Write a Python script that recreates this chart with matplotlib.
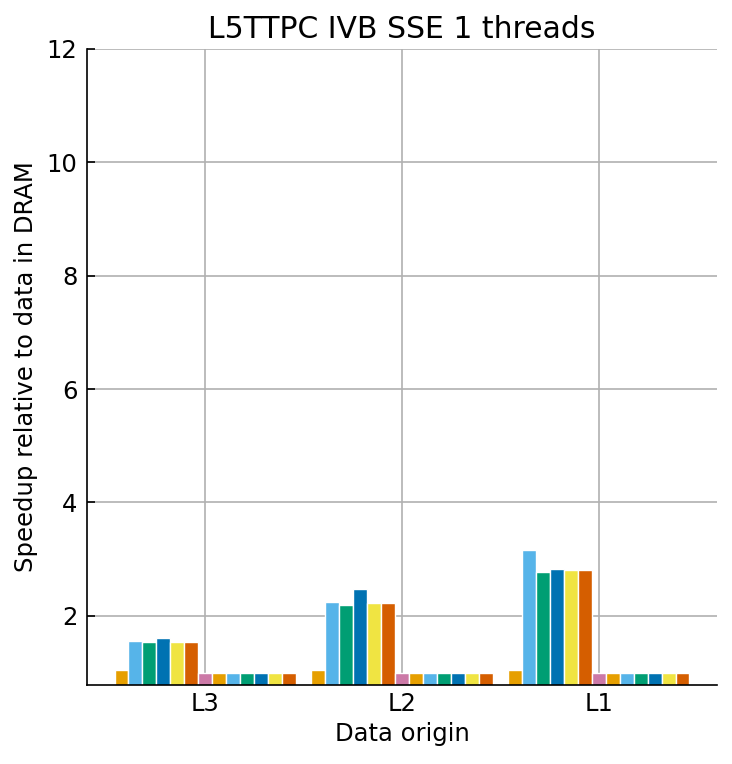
import matplotlib
matplotlib.use("Agg")
import matplotlib.pyplot as plt
import numpy as np

categories = ["L3", "L2", "L1"]
colors = ["#E69F00", "#56B4E9", "#009E73", "#0072B2", "#F0E442", "#D55E00",
          "#CC79A7", "#E69F00", "#56B4E9", "#009E73", "#0072B2", "#F0E442", "#D55E00"]
# one list per bar slot (13 bars per group), values for L3, L2, L1
series = [
    [1.05, 1.05, 1.05],
    [1.55, 2.24, 3.17],
    [1.53, 2.20, 2.78],
    [1.61, 2.48, 2.83],
    [1.53, 2.22, 2.81],
    [1.53, 2.22, 2.81],
    [1.00, 1.00, 1.00],
    [1.00, 1.00, 1.00],
    [1.00, 1.00, 1.00],
    [1.00, 1.00, 1.00],
    [1.00, 1.00, 1.00],
    [1.00, 1.00, 1.00],
    [1.00, 1.00, 1.00],
]
yticks = [2, 4, 6, 8, 10, 12]

fig = plt.figure(figsize=(7.32, 7.64), dpi=100)
ax = fig.add_axes([87/732, 1-685/764, (717-87)/732, (685-49)/764])

x = np.arange(len(categories))
n = len(series)
w = 0.92 / n
for i, vals in enumerate(series):
    ax.bar(x - 0.46 + w*(i+0.5), vals, width=w, color=colors[i],
           edgecolor="white", linewidth=1.0, zorder=3)

ax.set_xlim(-0.6, 2.6)
ax.set_ylim(0.78, 12)
ax.set_xticks(x)
ax.set_xticklabels(categories)
ax.set_yticks(yticks)
ax.grid(True, color="#b0b0b0", linewidth=1.2, zorder=0)
ax.set_axisbelow(True)
for s in ["top", "right"]:
    ax.spines[s].set_visible(False)
for s in ["left", "bottom"]:
    ax.spines[s].set_linewidth(1.2)
    ax.spines[s].set_zorder(5)
ax.tick_params(axis="y", direction="in", length=6, width=1.2, labelsize=17.5, pad=7)
ax.tick_params(axis="x", length=0, labelsize=17.5, pad=5)
ax.set_title("L5TTPC IVB SSE 1 threads", fontsize=21.5, pad=8)
ax.set_xlabel("Data origin", fontsize=17.5, labelpad=4)
ax.set_ylabel("Speedup relative to data in DRAM", fontsize=17.5, labelpad=6)

fig.savefig("out.png", dpi=100)
